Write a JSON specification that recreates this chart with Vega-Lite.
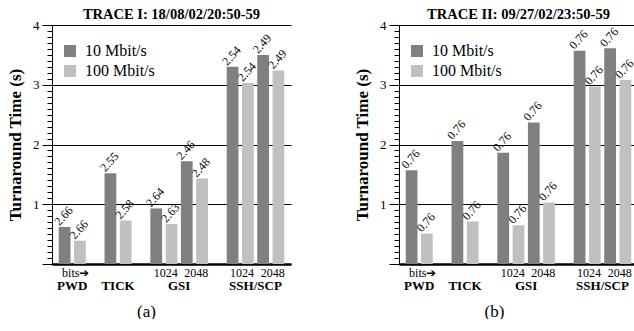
{
  "$schema": "https://vega.github.io/schema/vega-lite/v6.json",
  "autosize": {"type": "pad"},
  "padding": {"left": 6, "top": 6, "right": 0, "bottom": 0},
  "background": "white",
  "config": {
    "view": {"stroke": null},
    "font": "Liberation Serif",
    "axis": {"labelFont": "Liberation Serif", "titleFont": "Liberation Serif", "labelColor": "black", "titleColor": "black", "domainColor": "black", "tickColor": "black"},
    "legend": {"labelFont": "Liberation Serif", "labelColor": "black"}
  },
  "datasets": {
    "a": [
      {"bar": "PWD 10", "net": "10 Mbit/s", "time": 0.62, "label": "2.66"},
      {"bar": "PWD 100", "net": "100 Mbit/s", "time": 0.39, "label": "2.66"},
      {"bar": "TICK 10", "net": "10 Mbit/s", "time": 1.52, "label": "2.55"},
      {"bar": "TICK 100", "net": "100 Mbit/s", "time": 0.73, "label": "2.58"},
      {"bar": "GSI 1024 10", "net": "10 Mbit/s", "time": 0.93, "label": "2.64"},
      {"bar": "GSI 1024 100", "net": "100 Mbit/s", "time": 0.67, "label": "2.63"},
      {"bar": "GSI 2048 10", "net": "10 Mbit/s", "time": 1.72, "label": "2.46"},
      {"bar": "GSI 2048 100", "net": "100 Mbit/s", "time": 1.43, "label": "2.48"},
      {"bar": "SSH 1024 10", "net": "10 Mbit/s", "time": 3.30, "label": "2.54"},
      {"bar": "SSH 1024 100", "net": "100 Mbit/s", "time": 3.03, "label": "2.54"},
      {"bar": "SSH 2048 10", "net": "10 Mbit/s", "time": 3.50, "label": "2.49"},
      {"bar": "SSH 2048 100", "net": "100 Mbit/s", "time": 3.24, "label": "2.49"}
    ],
    "b": [
      {"bar": "PWD 10", "net": "10 Mbit/s", "time": 1.57, "label": "0.76"},
      {"bar": "PWD 100", "net": "100 Mbit/s", "time": 0.51, "label": "0.76"},
      {"bar": "TICK 10", "net": "10 Mbit/s", "time": 2.06, "label": "0.76"},
      {"bar": "TICK 100", "net": "100 Mbit/s", "time": 0.71, "label": "0.76"},
      {"bar": "GSI 1024 10", "net": "10 Mbit/s", "time": 1.86, "label": "0.76"},
      {"bar": "GSI 1024 100", "net": "100 Mbit/s", "time": 0.65, "label": "0.76"},
      {"bar": "GSI 2048 10", "net": "10 Mbit/s", "time": 2.37, "label": "0.76"},
      {"bar": "GSI 2048 100", "net": "100 Mbit/s", "time": 1.03, "label": "0.76"},
      {"bar": "SSH 1024 10", "net": "10 Mbit/s", "time": 3.57, "label": "0.76"},
      {"bar": "SSH 1024 100", "net": "100 Mbit/s", "time": 2.97, "label": "0.76"},
      {"bar": "SSH 2048 10", "net": "10 Mbit/s", "time": 3.61, "label": "0.76"},
      {"bar": "SSH 2048 100", "net": "100 Mbit/s", "time": 3.08, "label": "0.76"}
    ]
  },
  "bounds": "flush",
  "spacing": 108,
  "resolve": {"legend": {"color": "independent"}},
  "hconcat": [
    {
      "width": 239, "height": 239,
      "data": {"name": "a"},
      "title": {"text": "TRACE I: 18/08/02/20:50-59", "font": "Liberation Serif", "fontSize": 14.5, "fontWeight": "bold", "anchor": "middle", "offset": -3, "color": "black"},
      "layer": [
        {
          "mark": {"type": "bar"},
          "encoding": {
            "x": {"field": "bar", "type": "nominal", "sort": null,
              "scale": {"domain": ["PWD 10","PWD 100","_1","TICK 10","TICK 100","_2","GSI 1024 10","GSI 1024 100","GSI 2048 10","GSI 2048 100","_3","SSH 1024 10","SSH 1024 100","SSH 2048 10","SSH 2048 100"], "paddingInner": 0.23, "paddingOuter": 0.44},
              "axis": {"orient": "bottom", "title": null, "labelAngle": 0, "labelAlign": "left", "labelOffset": -2.5, "labelFontSize": 12, "labelPadding": 3, "ticks": false, "domainWidth": 2.5, "labelOverlap": false, "labelBound": false, "grid": false,
                "labelExpr": "datum.value == 'PWD 10' ? 'bits\u2794' : (datum.value == 'GSI 1024 10' || datum.value == 'SSH 1024 10') ? '1024' : (datum.value == 'GSI 2048 10' || datum.value == 'SSH 2048 10') ? '2048' : ''"}},
            "y": {"field": "time", "type": "quantitative", "scale": {"domain": [0, 4]},
              "axis": {"orient": "left", "title": "Turnaround Time (s)", "values": [0, 1, 2, 3, 4], "labelExpr": "datum.value == 0 ? '' : datum.label", "grid": true, "gridColor": "black", "gridOpacity": 1, "gridWidth": 1, "tickSize": 10, "labelFontSize": 13, "labelPadding": 3, "titleFontSize": 17, "titleFontWeight": "bold", "titlePadding": 8}},
            "color": {"field": "net", "type": "nominal",
              "scale": {"domain": ["10 Mbit/s", "100 Mbit/s"], "range": ["#808080", "#c0c0c0"]},
              "legend": {"orient": "none", "legendX": 10, "legendY": 18, "title": null, "symbolType": "square", "symbolSize": 144, "symbolStrokeWidth": 0, "labelFontSize": 16, "labelOffset": 7, "rowPadding": 4, "padding": 0}}
          }
        },
        {
          "mark": {"type": "text", "align": "left", "baseline": "alphabetic", "angle": 312, "font": "Liberation Serif", "fontSize": 12, "dy": -1, "color": "black"},
          "encoding": {
            "x": {"field": "bar", "type": "nominal", "bandPosition": 0.12,
              "axis": {"orient": "bottom", "labelAngle": 0, "labelAlign": "center", "labelOffset": 7.6, "labelFontSize": 13, "labelFontWeight": "bold", "labelPadding": 15, "ticks": false, "domain": false, "labelOverlap": false, "labelBound": false, "grid": false,
                "labelExpr": "datum.value == 'PWD 10' ? 'PWD' : datum.value == 'TICK 10' ? 'TICK' : datum.value == 'GSI 1024 100' ? 'GSI' : datum.value == 'SSH 1024 100' ? 'SSH/SCP' : ''",
                "title": "(a)", "titleFontSize": 17, "titleFontWeight": "normal", "titlePadding": 11, "titleX": 94}},
            "y": {"field": "time", "type": "quantitative",
              "axis": {"orient": "left", "title": null, "tickCount": 40, "labels": false, "grid": false, "domain": true, "tickSize": 5}},
            "text": {"field": "label"}
          }
        }
      ],
      "resolve": {"axis": {"x": "independent", "y": "independent"}}
    },
    {
      "width": 239, "height": 239,
      "data": {"name": "b"},
      "title": {"text": "TRACE II: 09/27/02/23:50-59", "font": "Liberation Serif", "fontSize": 14.5, "fontWeight": "bold", "anchor": "middle", "offset": -3, "color": "black"},
      "layer": [
        {
          "mark": {"type": "bar"},
          "encoding": {
            "x": {"field": "bar", "type": "nominal", "sort": null,
              "scale": {"domain": ["PWD 10","PWD 100","_1","TICK 10","TICK 100","_2","GSI 1024 10","GSI 1024 100","GSI 2048 10","GSI 2048 100","_3","SSH 1024 10","SSH 1024 100","SSH 2048 10","SSH 2048 100"], "paddingInner": 0.23, "paddingOuter": 0.44},
              "axis": {"orient": "bottom", "title": null, "labelAngle": 0, "labelAlign": "left", "labelOffset": -2.5, "labelFontSize": 12, "labelPadding": 3, "ticks": false, "domainWidth": 2.5, "labelOverlap": false, "labelBound": false, "grid": false,
                "labelExpr": "datum.value == 'PWD 10' ? 'bits\u2794' : (datum.value == 'GSI 1024 10' || datum.value == 'SSH 1024 10') ? '1024' : (datum.value == 'GSI 2048 10' || datum.value == 'SSH 2048 10') ? '2048' : ''"}},
            "y": {"field": "time", "type": "quantitative", "scale": {"domain": [0, 4]},
              "axis": {"orient": "left", "title": "Turnaround Time (s)", "values": [0, 1, 2, 3, 4], "labelExpr": "datum.value == 0 ? '' : datum.label", "grid": true, "gridColor": "black", "gridOpacity": 1, "gridWidth": 1, "tickSize": 10, "labelFontSize": 13, "labelPadding": 3, "titleFontSize": 17, "titleFontWeight": "bold", "titlePadding": 8}},
            "color": {"field": "net", "type": "nominal",
              "scale": {"domain": ["10 Mbit/s", "100 Mbit/s"], "range": ["#808080", "#c0c0c0"]},
              "legend": {"orient": "none", "legendX": 10, "legendY": 18, "title": null, "symbolType": "square", "symbolSize": 144, "symbolStrokeWidth": 0, "labelFontSize": 16, "labelOffset": 7, "rowPadding": 4, "padding": 0}}
          }
        },
        {
          "mark": {"type": "text", "align": "left", "baseline": "alphabetic", "angle": 312, "font": "Liberation Serif", "fontSize": 12, "dy": -1, "color": "black"},
          "encoding": {
            "x": {"field": "bar", "type": "nominal", "bandPosition": 0.12,
              "axis": {"orient": "bottom", "labelAngle": 0, "labelAlign": "center", "labelOffset": 7.6, "labelFontSize": 13, "labelFontWeight": "bold", "labelPadding": 15, "ticks": false, "domain": false, "labelOverlap": false, "labelBound": false, "grid": false,
                "labelExpr": "datum.value == 'PWD 10' ? 'PWD' : datum.value == 'TICK 10' ? 'TICK' : datum.value == 'GSI 1024 100' ? 'GSI' : datum.value == 'SSH 1024 100' ? 'SSH/SCP' : ''",
                "title": "(b)", "titleFontSize": 17, "titleFontWeight": "normal", "titlePadding": 11, "titleX": 95}},
            "y": {"field": "time", "type": "quantitative",
              "axis": {"orient": "left", "title": null, "tickCount": 40, "labels": false, "grid": false, "domain": true, "tickSize": 5}},
            "text": {"field": "label"}
          }
        }
      ],
      "resolve": {"axis": {"x": "independent", "y": "independent"}}
    }
  ]
}
